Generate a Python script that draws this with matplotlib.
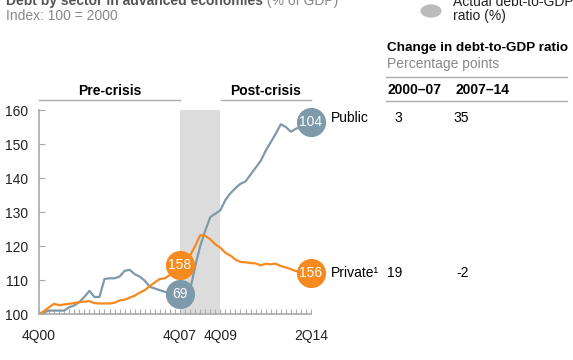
import matplotlib.pyplot as plt
import numpy as np

plt.rcParams['font.family'] = ['Liberation Sans', 'DejaVu Sans']

# quarterly index, 4Q00 .. 2Q14 (55 quarters), 100 = 2000
public = [100, 100.5, 101, 101, 101, 101, 102, 102.5, 103.5, 105,
          106.8, 105, 105, 110.3, 110.5, 110.5, 111, 112.7, 113, 111.7,
          111, 109.8, 108, 107.5, 107, 106.5, 106.3, 106, 106, 106.5,
          107, 114, 120, 124.5, 128.5, 129.5, 130.5, 133.5, 135.5, 137,
          138.3, 139, 141, 143, 145, 148, 150.5, 153, 155.8, 155,
          153.6, 154.5, 155, 155.5, 156.5]
private = [100, 100.8, 102, 103, 102.6, 102.8, 103, 103.2, 103.5, 103.6,
           103.8, 103.2, 103.1, 103.1, 103.1, 103.3, 104, 104.2, 104.8, 105.4,
           106.3, 107, 108.2, 109.3, 110.3, 110.5, 111.5, 112.5, 114.5, 116,
           117.2, 120, 123.2, 123, 122, 120.5, 119.5, 118, 117.2, 116,
           115.3, 115.2, 115, 114.9, 114.3, 114.8, 114.6, 114.8, 114.1, 113.7,
           113.2, 112.6, 112.5, 112.3, 112]

tick_labels = {0: '4Q00', 28: '4Q07', 36: '4Q09', 54: '2Q14'}
crisis = (28, 36)

ratio_2007 = {'public': 69, 'private': 158}
ratio_2014 = {'public': 104, 'private': 156}
change_cols = ['2000–07', '2007–14']
change_public = ['3', '35']
change_private = ['19', '-2']

BLUE = '#7d99aa'
ORANGE = '#f68a1f'
GRID = '#aaaaaa'

W, H = 573, 360
fig = plt.figure(figsize=(W / 100, H / 100), dpi=100)


def px(x, y):
    return x / W, 1 - y / H


ax = fig.add_axes([39 / W, (H - 314) / H, (311 - 39) / W, (314 - 110) / H])
q = np.arange(len(public))

ax.axvspan(crisis[0], crisis[1], color='#dcdcdc', lw=0, zorder=0)
ax.plot(q, public, color=BLUE, lw=1.6, zorder=2)
ax.plot(q, private, color=ORANGE, lw=1.6, zorder=2)

ax.set_xlim(0, len(public) - 1)
ax.set_ylim(100, 160)
ax.set_yticks(range(100, 161, 10))
ax.set_xticks(q)
ax.set_xticklabels([tick_labels.get(i, '') for i in q])
ax.tick_params(axis='x', direction='in', length=3.5, color=GRID, pad=11,
               labelsize=10, labelcolor='#222222')
ax.tick_params(axis='y', direction='in', length=4, color=GRID, pad=8,
               labelsize=10, labelcolor='#222222')
for s in ['top', 'right']:
    ax.spines[s].set_visible(False)
for s in ['left', 'bottom']:
    ax.spines[s].set_color(GRID)
    ax.spines[s].set_linewidth(1.2)


def bubble(x, y, color, label):
    ax.plot([x], [y], marker='o', ms=21, color=color, mec='none',
            clip_on=False, zorder=4)
    ax.text(x, y, str(label), color='white', ha='center', va='center',
            fontsize=10, zorder=5, clip_on=False)


bubble(crisis[0], private[crisis[0]], ORANGE, ratio_2007['private'])
bubble(crisis[0], public[crisis[0]], BLUE, ratio_2007['public'])
bubble(q[-1], public[-1], BLUE, ratio_2014['public'])
bubble(q[-1], private[-1], ORANGE, ratio_2014['private'])

# period headers
tr = ax.get_xaxis_transform()
ax.plot([0, crisis[0]], [1.049, 1.049], color=GRID, lw=1, transform=tr, clip_on=False)
ax.plot([crisis[1] + 0.2, q[-1]], [1.049, 1.049], color=GRID, lw=1, transform=tr, clip_on=False)
ax.text(crisis[0] / 2, 1.093, 'Pre-crisis', transform=tr, ha='center', va='center',
        fontsize=10, fontweight='bold')
ax.text((crisis[1] + q[-1]) / 2, 1.093, 'Post-crisis', transform=tr, ha='center',
        va='center', fontsize=10, fontweight='bold')

# title (cropped at top, as in the source)
t = fig.text(*px(6, 5), 'Debt by sector in advanced economies', fontsize=10,
             fontweight='bold', color='#555555', va='baseline')
ax.annotate(' (% of GDP)', xy=(1, 0), xycoords=t, va='bottom', fontsize=10,
            color='#888888', annotation_clip=False)
fig.text(*px(6, 16), 'Index: 100 = 2000', fontsize=10, color='#888888', va='center')

# legend
fig.add_artist(plt.Circle(px(431, 11), 10.5 / W, transform=fig.transFigure,
                          color='#bbbbbb', lw=0))
fig.text(*px(453, 2), 'Actual debt-to-GDP', fontsize=10, color='#222222', va='center')
fig.text(*px(453, 16), 'ratio (%)', fontsize=10, color='#222222', va='center')

# series labels
fig.text(*px(331, 118), 'Public', fontsize=10, va='center')
fig.text(*px(331, 273), 'Private¹', fontsize=10, va='center')

# change table
fig.text(*px(387, 48), 'Change in debt-to-GDP ratio', fontsize=9.7,
         fontweight='bold', va='center')
fig.text(*px(387, 64), 'Percentage points', fontsize=10, color='#888888', va='center')
for yy in (77, 101):
    fig.add_artist(plt.Line2D([386 / W, 567 / W], [1 - yy / H] * 2, color=GRID,
                              lw=1, transform=fig.transFigure))
fig.text(*px(387, 90), change_cols[0], fontsize=10, fontweight='bold', va='center')
fig.text(*px(455, 90), change_cols[1], fontsize=10, fontweight='bold', va='center')
for yy, vals in ((118, change_public), (273, change_private)):
    fig.text(*px(402, yy), vals[0], fontsize=10, va='center', ha='right')
    fig.text(*px(469, yy), vals[1], fontsize=10, va='center', ha='right')

fig.savefig('out.png', dpi=100)
